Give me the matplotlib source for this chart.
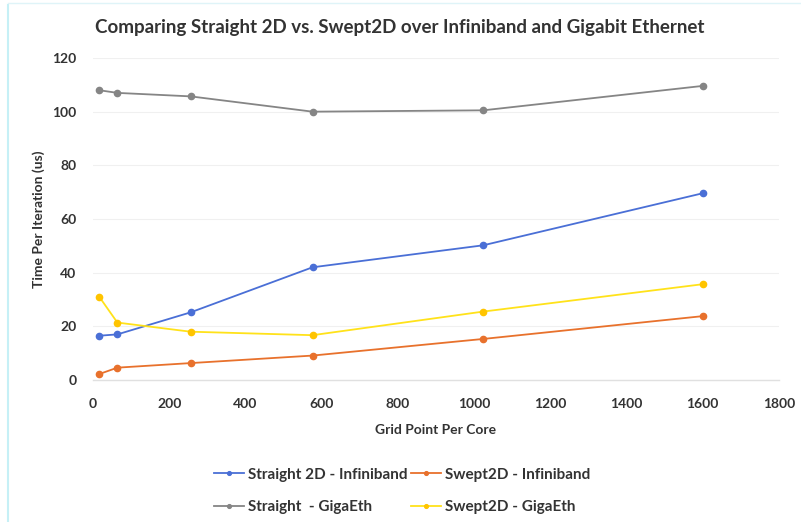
import matplotlib
matplotlib.use("Agg")
import matplotlib.pyplot as plt
from matplotlib.lines import Line2D

# Grid points per core (x) and time per iteration in microseconds (y)
grid_points = [16, 64, 256, 576, 1024, 1600]
straight_ib = [16.5, 17.0, 25.2, 42.0, 50.2, 69.6]
swept_ib = [2.2, 4.6, 6.3, 9.1, 15.3, 23.8]
straight_ge = [108.0, 107.0, 105.7, 100.0, 100.5, 109.6]
swept_ge = [31.1, 21.4, 18.0, 16.7, 25.5, 35.7]

series_labels = [
    "Straight 2D - Infiniband",
    "Swept2D - Infiniband",
    "Straight  - GigaEth",
    "Swept2D - GigaEth",
]
series_colors = ["#4a6fd6", "#e8712c", "#858585", "#ffe21a"]
marker_colors = ["#4a6fd6", "#e8712c", "#858585", "#ffc400"]

x_ticks = [0, 200, 400, 600, 800, 1000, 1200, 1400, 1600, 1800]
y_ticks = [0, 20, 40, 60, 80, 100, 120]

plt.rcParams["font.family"] = ["Lato", "DejaVu Sans"]
text_color = "#333333"

fig = plt.figure(figsize=(8.01, 5.22), dpi=100)
fig.patch.set_facecolor("white")
ax = fig.add_axes([93 / 801, 1 - 380 / 522, (779 - 93) / 801, (380 - 58) / 522])

all_series = [straight_ib, swept_ib, straight_ge, swept_ge]
lines = []
for values, label, lc, mc in zip(all_series, series_labels, series_colors, marker_colors):
    ln, = ax.plot(grid_points, values, color=lc, lw=1.3, marker="o", markersize=4.5,
                  markerfacecolor=mc, markeredgecolor=mc, label=label)
    lines.append(ln)

ax.set_xlim(0, 1800)
ax.set_ylim(0, 120)
ax.set_xticks(x_ticks)
ax.set_yticks(y_ticks)
ax.tick_params(length=0, labelsize=10, colors=text_color)
ax.tick_params(axis="x", pad=13)
ax.tick_params(axis="y", pad=12)
for lbl in ax.get_xticklabels() + ax.get_yticklabels():
    lbl.set_fontweight("bold")

for s in ["top", "right", "left"]:
    ax.spines[s].set_visible(False)
ax.spines["bottom"].set_color("#e0e0e0")
ax.spines["bottom"].set_linewidth(1.0)
ax.grid(axis="y", color="#f0f0f0", lw=0.8)
ax.set_axisbelow(True)

ax.set_xlabel("Grid Point Per Core", fontsize=10, fontweight="bold",
              color=text_color, labelpad=10)
ax.set_ylabel("Time Per Iteration (us)", fontsize=10, fontweight="bold",
              color=text_color, labelpad=5)

fig.text(400 / 801, 1 - 27 / 522,
         "Comparing Straight 2D vs. Swept2D over Infiniband and Gigabit Ethernet",
         ha="center", va="center", fontsize=13.5, fontweight="bold", color=text_color)

# legend filled row by row: the two Infiniband series on top, GigaEth below
order = [0, 2, 1, 3]
leg = fig.legend([lines[i] for i in order], [series_labels[i] for i in order],
                 loc="center", bbox_to_anchor=(402 / 801, 1 - 491 / 522), ncol=2,
                 frameon=False, fontsize=11, handlelength=2.0, handletextpad=0.25,
                 columnspacing=0.2, labelspacing=1.2, markerscale=0.6)
for t in leg.get_texts():
    t.set_fontweight("bold")
    t.set_color(text_color)

# light page border
fig.add_artist(Line2D([8 / 801, 8 / 801], [0, 0.99], transform=fig.transFigure,
                      color="#c6f0f6", lw=1.5))
fig.add_artist(Line2D([8 / 801, 1], [0.994, 0.994], transform=fig.transFigure,
                      color="#dff4f8", lw=1.0))

fig.savefig("out.png", dpi=100, facecolor="white")
